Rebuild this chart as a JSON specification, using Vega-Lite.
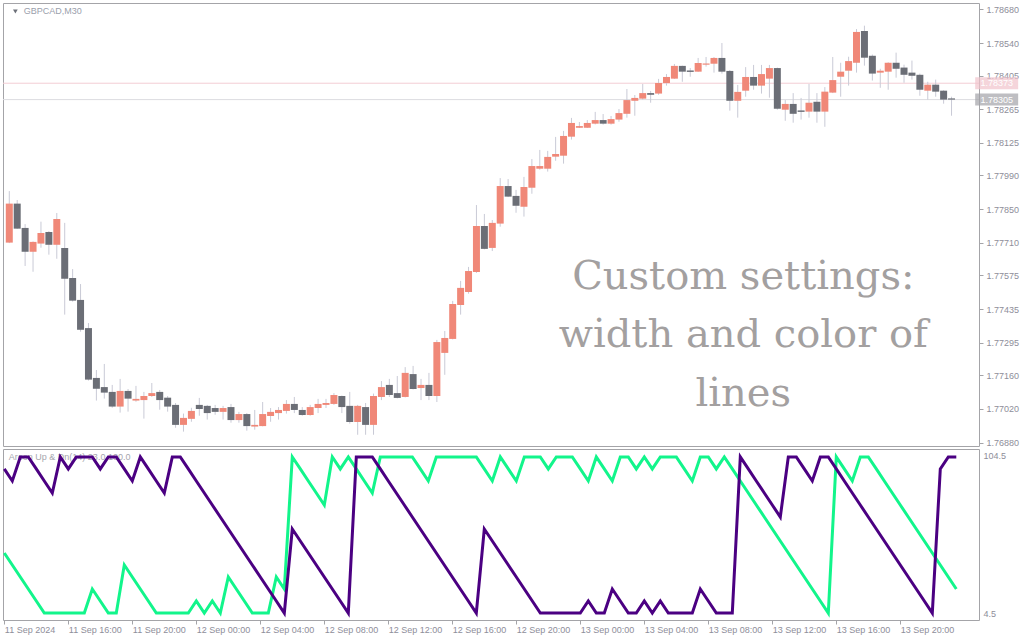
{
  "$schema": "https://vega.github.io/schema/vega-lite/v6.json",
  "padding": {"left": 2, "top": 2, "right": 0, "bottom": 0},
  "background": "white",
  "spacing": 3,
  "bounds": "flush",
  "config": {
    "view": {"stroke": "#a4a4a8", "strokeWidth": 1},
    "axis": {"labelFont": "Liberation Sans", "labelColor": "#8e8e9a", "tickColor": "#a4a4a8", "grid": false, "domain": false, "title": null, "labelOverlap": false, "labelFlush": false}
  },
  "datasets": {
    "bars": [
      {"t":"2024-09-11 12:00","o":1.77711,"h":1.77925,"l":1.77709,"c":1.77873,"up":43.1,"dn":96.3},
      {"t":"2024-09-11 12:30","o":1.77873,"h":1.77888,"l":1.77768,"c":1.77769,"up":35.5,"dn":88.7},
      {"t":"2024-09-11 13:00","o":1.77772,"h":1.77788,"l":1.77614,"c":1.77673,"up":27.9,"dn":103.9},
      {"t":"2024-09-11 13:30","o":1.77673,"h":1.77716,"l":1.77590,"c":1.77714,"up":20.3,"dn":103.9},
      {"t":"2024-09-11 14:00","o":1.77707,"h":1.77798,"l":1.77690,"c":1.77751,"up":12.7,"dn":96.3},
      {"t":"2024-09-11 14:30","o":1.77755,"h":1.77759,"l":1.77661,"c":1.77702,"up":5.1,"dn":88.7},
      {"t":"2024-09-11 15:00","o":1.77702,"h":1.77834,"l":1.77644,"c":1.77809,"up":5.1,"dn":81.1},
      {"t":"2024-09-11 15:30","o":1.77689,"h":1.77793,"l":1.77412,"c":1.77561,"up":5.1,"dn":103.9},
      {"t":"2024-09-11 16:00","o":1.77564,"h":1.77601,"l":1.77466,"c":1.77470,"up":5.1,"dn":96.3},
      {"t":"2024-09-11 16:30","o":1.77473,"h":1.77539,"l":1.77341,"c":1.77349,"up":5.1,"dn":103.9},
      {"t":"2024-09-11 17:00","o":1.77356,"h":1.77377,"l":1.77138,"c":1.77142,"up":5.1,"dn":103.9},
      {"t":"2024-09-11 17:30","o":1.77149,"h":1.77182,"l":1.77055,"c":1.77104,"up":20.3,"dn":103.9},
      {"t":"2024-09-11 18:00","o":1.77111,"h":1.77207,"l":1.77063,"c":1.77088,"up":12.7,"dn":96.3},
      {"t":"2024-09-11 18:30","o":1.77091,"h":1.77120,"l":1.77025,"c":1.77030,"up":5.1,"dn":103.9},
      {"t":"2024-09-11 19:00","o":1.77030,"h":1.77145,"l":1.77005,"c":1.77095,"up":5.1,"dn":103.9},
      {"t":"2024-09-11 19:30","o":1.77095,"h":1.77103,"l":1.77009,"c":1.77063,"up":35.5,"dn":96.3},
      {"t":"2024-09-11 20:00","o":1.77055,"h":1.77116,"l":1.77050,"c":1.77062,"up":27.9,"dn":88.7},
      {"t":"2024-09-11 20:30","o":1.77057,"h":1.77091,"l":1.76980,"c":1.77074,"up":20.3,"dn":103.9},
      {"t":"2024-09-11 21:00","o":1.77074,"h":1.77128,"l":1.77070,"c":1.77086,"up":12.7,"dn":96.3},
      {"t":"2024-09-11 21:30","o":1.77091,"h":1.77099,"l":1.77017,"c":1.77057,"up":5.1,"dn":88.7},
      {"t":"2024-09-11 22:00","o":1.77067,"h":1.77074,"l":1.77009,"c":1.77030,"up":5.1,"dn":81.1},
      {"t":"2024-09-11 22:30","o":1.77037,"h":1.77045,"l":1.76942,"c":1.76954,"up":5.1,"dn":103.9},
      {"t":"2024-09-11 23:00","o":1.76954,"h":1.77001,"l":1.76926,"c":1.76983,"up":5.1,"dn":103.9},
      {"t":"2024-09-11 23:30","o":1.76979,"h":1.77025,"l":1.76967,"c":1.77012,"up":5.1,"dn":96.3},
      {"t":"2024-09-12 00:00","o":1.77037,"h":1.77066,"l":1.76992,"c":1.77020,"up":12.7,"dn":88.7},
      {"t":"2024-09-12 00:30","o":1.77033,"h":1.77037,"l":1.76976,"c":1.77003,"up":5.1,"dn":81.1},
      {"t":"2024-09-12 01:00","o":1.77024,"h":1.77037,"l":1.76996,"c":1.77008,"up":12.7,"dn":73.5},
      {"t":"2024-09-12 01:30","o":1.77008,"h":1.77033,"l":1.76976,"c":1.77024,"up":5.1,"dn":65.9},
      {"t":"2024-09-12 02:00","o":1.77028,"h":1.77041,"l":1.76963,"c":1.76974,"up":27.9,"dn":58.3},
      {"t":"2024-09-12 02:30","o":1.76974,"h":1.77008,"l":1.76963,"c":1.76999,"up":20.3,"dn":50.7},
      {"t":"2024-09-12 03:00","o":1.76999,"h":1.77003,"l":1.76930,"c":1.76949,"up":12.7,"dn":43.1},
      {"t":"2024-09-12 03:30","o":1.76947,"h":1.77016,"l":1.76934,"c":1.76954,"up":5.1,"dn":35.5},
      {"t":"2024-09-12 04:00","o":1.76949,"h":1.77049,"l":1.76948,"c":1.76999,"up":5.1,"dn":27.9},
      {"t":"2024-09-12 04:30","o":1.76991,"h":1.77024,"l":1.76967,"c":1.77008,"up":5.1,"dn":20.3},
      {"t":"2024-09-12 05:00","o":1.77003,"h":1.77028,"l":1.76976,"c":1.77016,"up":27.9,"dn":12.7},
      {"t":"2024-09-12 05:30","o":1.77012,"h":1.77057,"l":1.77001,"c":1.77041,"up":20.3,"dn":5.1},
      {"t":"2024-09-12 06:00","o":1.77041,"h":1.77070,"l":1.77003,"c":1.77016,"up":103.9,"dn":58.3},
      {"t":"2024-09-12 06:30","o":1.77016,"h":1.77028,"l":1.76992,"c":1.76995,"up":96.3,"dn":50.7},
      {"t":"2024-09-12 07:00","o":1.76995,"h":1.77037,"l":1.76992,"c":1.77028,"up":88.7,"dn":43.1},
      {"t":"2024-09-12 07:30","o":1.77024,"h":1.77062,"l":1.77003,"c":1.77041,"up":81.1,"dn":35.5},
      {"t":"2024-09-12 08:00","o":1.77037,"h":1.77062,"l":1.77024,"c":1.77045,"up":73.5,"dn":27.9},
      {"t":"2024-09-12 08:30","o":1.77041,"h":1.77086,"l":1.77037,"c":1.77078,"up":103.9,"dn":20.3},
      {"t":"2024-09-12 09:00","o":1.77074,"h":1.77076,"l":1.77003,"c":1.77028,"up":96.3,"dn":12.7},
      {"t":"2024-09-12 09:30","o":1.77033,"h":1.77091,"l":1.76959,"c":1.76966,"up":103.9,"dn":5.1},
      {"t":"2024-09-12 10:00","o":1.76966,"h":1.77037,"l":1.76913,"c":1.77033,"up":96.3,"dn":103.9},
      {"t":"2024-09-12 10:30","o":1.77028,"h":1.77045,"l":1.76913,"c":1.76954,"up":88.7,"dn":103.9},
      {"t":"2024-09-12 11:00","o":1.76954,"h":1.77084,"l":1.76913,"c":1.77074,"up":81.1,"dn":103.9},
      {"t":"2024-09-12 11:30","o":1.77070,"h":1.77136,"l":1.77057,"c":1.77111,"up":103.9,"dn":96.3},
      {"t":"2024-09-12 12:00","o":1.77120,"h":1.77145,"l":1.77070,"c":1.77078,"up":103.9,"dn":88.7},
      {"t":"2024-09-12 12:30","o":1.77086,"h":1.77157,"l":1.77064,"c":1.77066,"up":103.9,"dn":81.1},
      {"t":"2024-09-12 13:00","o":1.77070,"h":1.77194,"l":1.77068,"c":1.77170,"up":103.9,"dn":73.5},
      {"t":"2024-09-12 13:30","o":1.77165,"h":1.77199,"l":1.77101,"c":1.77103,"up":103.9,"dn":65.9},
      {"t":"2024-09-12 14:00","o":1.77107,"h":1.77145,"l":1.77057,"c":1.77120,"up":96.3,"dn":58.3},
      {"t":"2024-09-12 14:30","o":1.77120,"h":1.77170,"l":1.77057,"c":1.77074,"up":88.7,"dn":50.7},
      {"t":"2024-09-12 15:00","o":1.77074,"h":1.77307,"l":1.77049,"c":1.77298,"up":103.9,"dn":43.1},
      {"t":"2024-09-12 15:30","o":1.77253,"h":1.77344,"l":1.77162,"c":1.77315,"up":103.9,"dn":35.5},
      {"t":"2024-09-12 16:00","o":1.77311,"h":1.77469,"l":1.77309,"c":1.77456,"up":103.9,"dn":27.9},
      {"t":"2024-09-12 16:30","o":1.77452,"h":1.77552,"l":1.77412,"c":1.77523,"up":103.9,"dn":20.3},
      {"t":"2024-09-12 17:00","o":1.77506,"h":1.77610,"l":1.77499,"c":1.77593,"up":103.9,"dn":12.7},
      {"t":"2024-09-12 17:30","o":1.77589,"h":1.77867,"l":1.77585,"c":1.77780,"up":103.9,"dn":5.1},
      {"t":"2024-09-12 18:00","o":1.77780,"h":1.77830,"l":1.77683,"c":1.77685,"up":96.3,"dn":58.3},
      {"t":"2024-09-12 18:30","o":1.77689,"h":1.77805,"l":1.77676,"c":1.77793,"up":88.7,"dn":50.7},
      {"t":"2024-09-12 19:00","o":1.77790,"h":1.77979,"l":1.77777,"c":1.77946,"up":103.9,"dn":43.1},
      {"t":"2024-09-12 19:30","o":1.77946,"h":1.77975,"l":1.77900,"c":1.77902,"up":96.3,"dn":35.5},
      {"t":"2024-09-12 20:00","o":1.77905,"h":1.77930,"l":1.77835,"c":1.77864,"up":88.7,"dn":27.9},
      {"t":"2024-09-12 20:30","o":1.77860,"h":1.77984,"l":1.77819,"c":1.77942,"up":103.9,"dn":20.3},
      {"t":"2024-09-12 21:00","o":1.77939,"h":1.78058,"l":1.77914,"c":1.78029,"up":103.9,"dn":12.7},
      {"t":"2024-09-12 21:30","o":1.78018,"h":1.78096,"l":1.78014,"c":1.78029,"up":103.9,"dn":5.1},
      {"t":"2024-09-12 22:00","o":1.78018,"h":1.78092,"l":1.78006,"c":1.78067,"up":96.3,"dn":5.1},
      {"t":"2024-09-12 22:30","o":1.78068,"h":1.78150,"l":1.78051,"c":1.78079,"up":103.9,"dn":5.1},
      {"t":"2024-09-12 23:00","o":1.78072,"h":1.78175,"l":1.78039,"c":1.78154,"up":103.9,"dn":5.1},
      {"t":"2024-09-12 23:30","o":1.78151,"h":1.78229,"l":1.78139,"c":1.78208,"up":103.9,"dn":5.1},
      {"t":"2024-09-13 00:00","o":1.78188,"h":1.78212,"l":1.78187,"c":1.78195,"up":96.3,"dn":5.1},
      {"t":"2024-09-13 00:30","o":1.78188,"h":1.78220,"l":1.78187,"c":1.78208,"up":88.7,"dn":12.7},
      {"t":"2024-09-13 01:00","o":1.78205,"h":1.78254,"l":1.78202,"c":1.78220,"up":103.9,"dn":5.1},
      {"t":"2024-09-13 01:30","o":1.78220,"h":1.78245,"l":1.78201,"c":1.78205,"up":96.3,"dn":5.1},
      {"t":"2024-09-13 02:00","o":1.78205,"h":1.78237,"l":1.78201,"c":1.78224,"up":88.7,"dn":20.3},
      {"t":"2024-09-13 02:30","o":1.78222,"h":1.78266,"l":1.78213,"c":1.78249,"up":103.9,"dn":12.7},
      {"t":"2024-09-13 03:00","o":1.78246,"h":1.78349,"l":1.78230,"c":1.78303,"up":103.9,"dn":5.1},
      {"t":"2024-09-13 03:30","o":1.78300,"h":1.78324,"l":1.78238,"c":1.78312,"up":96.3,"dn":5.1},
      {"t":"2024-09-13 04:00","o":1.78309,"h":1.78370,"l":1.78305,"c":1.78332,"up":103.9,"dn":12.7},
      {"t":"2024-09-13 04:30","o":1.78332,"h":1.78341,"l":1.78292,"c":1.78325,"up":96.3,"dn":5.1},
      {"t":"2024-09-13 05:00","o":1.78330,"h":1.78391,"l":1.78325,"c":1.78374,"up":103.9,"dn":12.7},
      {"t":"2024-09-13 05:30","o":1.78374,"h":1.78411,"l":1.78363,"c":1.78399,"up":103.9,"dn":5.1},
      {"t":"2024-09-13 06:00","o":1.78392,"h":1.78453,"l":1.78391,"c":1.78445,"up":103.9,"dn":5.1},
      {"t":"2024-09-13 06:30","o":1.78445,"h":1.78446,"l":1.78379,"c":1.78421,"up":96.3,"dn":5.1},
      {"t":"2024-09-13 07:00","o":1.78426,"h":1.78436,"l":1.78400,"c":1.78420,"up":88.7,"dn":5.1},
      {"t":"2024-09-13 07:30","o":1.78421,"h":1.78478,"l":1.78420,"c":1.78457,"up":103.9,"dn":20.3},
      {"t":"2024-09-13 08:00","o":1.78450,"h":1.78482,"l":1.78442,"c":1.78455,"up":103.9,"dn":12.7},
      {"t":"2024-09-13 08:30","o":1.78454,"h":1.78482,"l":1.78417,"c":1.78478,"up":96.3,"dn":5.1},
      {"t":"2024-09-13 09:00","o":1.78478,"h":1.78540,"l":1.78413,"c":1.78421,"up":103.9,"dn":5.1},
      {"t":"2024-09-13 09:30","o":1.78424,"h":1.78428,"l":1.78259,"c":1.78300,"up":96.3,"dn":5.1},
      {"t":"2024-09-13 10:00","o":1.78300,"h":1.78366,"l":1.78230,"c":1.78337,"up":88.7,"dn":103.9},
      {"t":"2024-09-13 10:30","o":1.78342,"h":1.78440,"l":1.78317,"c":1.78399,"up":81.1,"dn":96.3},
      {"t":"2024-09-13 11:00","o":1.78399,"h":1.78449,"l":1.78346,"c":1.78363,"up":73.5,"dn":88.7},
      {"t":"2024-09-13 11:30","o":1.78363,"h":1.78449,"l":1.78330,"c":1.78411,"up":65.9,"dn":81.1},
      {"t":"2024-09-13 12:00","o":1.78392,"h":1.78449,"l":1.78313,"c":1.78436,"up":58.3,"dn":73.5},
      {"t":"2024-09-13 12:30","o":1.78436,"h":1.78438,"l":1.78263,"c":1.78267,"up":50.7,"dn":65.9},
      {"t":"2024-09-13 13:00","o":1.78263,"h":1.78303,"l":1.78217,"c":1.78287,"up":43.1,"dn":103.9},
      {"t":"2024-09-13 13:30","o":1.78287,"h":1.78332,"l":1.78209,"c":1.78246,"up":35.5,"dn":103.9},
      {"t":"2024-09-13 14:00","o":1.78260,"h":1.78312,"l":1.78222,"c":1.78254,"up":27.9,"dn":96.3},
      {"t":"2024-09-13 14:30","o":1.78255,"h":1.78370,"l":1.78230,"c":1.78292,"up":20.3,"dn":88.7},
      {"t":"2024-09-13 15:00","o":1.78296,"h":1.78332,"l":1.78209,"c":1.78255,"up":12.7,"dn":103.9},
      {"t":"2024-09-13 15:30","o":1.78255,"h":1.78357,"l":1.78192,"c":1.78338,"up":5.1,"dn":103.9},
      {"t":"2024-09-13 16:00","o":1.78334,"h":1.78482,"l":1.78332,"c":1.78386,"up":103.9,"dn":96.3},
      {"t":"2024-09-13 16:30","o":1.78400,"h":1.78458,"l":1.78317,"c":1.78421,"up":96.3,"dn":88.7},
      {"t":"2024-09-13 17:00","o":1.78425,"h":1.78483,"l":1.78363,"c":1.78465,"up":88.7,"dn":81.1},
      {"t":"2024-09-13 17:30","o":1.78458,"h":1.78598,"l":1.78417,"c":1.78586,"up":103.9,"dn":73.5},
      {"t":"2024-09-13 18:00","o":1.78590,"h":1.78612,"l":1.78446,"c":1.78479,"up":103.9,"dn":65.9},
      {"t":"2024-09-13 18:30","o":1.78487,"h":1.78492,"l":1.78384,"c":1.78413,"up":96.3,"dn":58.3},
      {"t":"2024-09-13 19:00","o":1.78417,"h":1.78433,"l":1.78354,"c":1.78425,"up":88.7,"dn":50.7},
      {"t":"2024-09-13 19:30","o":1.78421,"h":1.78460,"l":1.78346,"c":1.78458,"up":81.1,"dn":43.1},
      {"t":"2024-09-13 20:00","o":1.78458,"h":1.78500,"l":1.78396,"c":1.78433,"up":73.5,"dn":35.5},
      {"t":"2024-09-13 20:30","o":1.78438,"h":1.78450,"l":1.78375,"c":1.78408,"up":65.9,"dn":27.9},
      {"t":"2024-09-13 21:00","o":1.78417,"h":1.78467,"l":1.78388,"c":1.78404,"up":58.3,"dn":20.3},
      {"t":"2024-09-13 21:30","o":1.78408,"h":1.78413,"l":1.78321,"c":1.78346,"up":50.7,"dn":12.7},
      {"t":"2024-09-13 22:00","o":1.78342,"h":1.78379,"l":1.78305,"c":1.78367,"up":43.1,"dn":5.1},
      {"t":"2024-09-13 22:30","o":1.78367,"h":1.78388,"l":1.78317,"c":1.78338,"up":35.5,"dn":96.3},
      {"t":"2024-09-13 23:00","o":1.78342,"h":1.78344,"l":1.78288,"c":1.78305,"up":27.9,"dn":103.9},
      {"t":"2024-09-13 23:30","o":1.78310,"h":1.78317,"l":1.78238,"c":1.78305,"up":20.3,"dn":103.9}
    ],
    "levels": [
      {"price": 1.78373, "label": "1.78373", "kind": "ask"},
      {"price": 1.78305, "label": "1.78305", "kind": "bid"}
    ]
  },
  "vconcat": [
    {
      "width": 976,
      "height": 443,
      "layer": [
        {
          "data": {"name": "levels"},
          "mark": {"type": "rule", "strokeWidth": 1},
          "encoding": {
            "y": {"field": "price", "type": "quantitative", "scale": {"domain": [1.768663, 1.787062], "nice": false, "zero": false},
              "axis": {"orient": "right", "values": [1.7868, 1.7854, 1.78405, 1.78265, 1.78125, 1.7799, 1.7785, 1.7771, 1.77575, 1.77435, 1.77295, 1.7716, 1.7702, 1.7688], "tickCount": 30, "format": ".5f", "tickSize": 4, "labelPadding": 3, "labelFontSize": 9, "labelOverlap": false}},
            "color": {"condition": {"test": "datum.kind === 'ask'", "value": "#f3cdd4"}, "value": "#dcdce0"}
          }
        },
        {
          "data": {"name": "bars"},
          "mark": {"type": "rule", "strokeWidth": 1, "color": "#c9cad6", "clip": true},
          "encoding": {
            "x": {"field": "t", "type": "temporal", "axis": null,
              "scale": {"domain": [{"year": 2024, "month": 9, "date": 11, "hours": 11, "minutes": 55, "seconds": 7, "milliseconds": 500}, {"year": 2024, "month": 9, "date": 14, "hours": 0, "minutes": 55, "seconds": 7, "milliseconds": 500}]}},
            "y": {"field": "l", "type": "quantitative", "axis": {"orient": "right", "values": [1.7868, 1.7854, 1.78405, 1.78265, 1.78125, 1.7799, 1.7785, 1.7771, 1.77575, 1.77435, 1.77295, 1.7716, 1.7702, 1.7688], "tickCount": 30, "format": ".5f", "tickSize": 4, "labelPadding": 3, "labelFontSize": 9, "labelOverlap": false}},
            "y2": {"field": "h"}
          }
        },
        {
          "data": {"name": "bars"},
          "mark": {"type": "bar", "size": 7, "clip": true},
          "encoding": {
            "x": {"field": "t", "type": "temporal"},
            "y": {"field": "o", "type": "quantitative"},
            "y2": {"field": "c"},
            "color": {"condition": {"test": "datum.c >= datum.o", "value": "#f08878"}, "value": "#6b6e76"}
          }
        },
        {
          "data": {"name": "levels"},
          "mark": {"type": "tick", "orient": "horizontal", "size": 43, "thickness": 12},
          "encoding": {
            "x": {"datum": {"year": 2024, "month": 9, "date": 14, "hours": 2, "minutes": 21}, "type": "temporal"},
            "y": {"field": "price", "type": "quantitative"},
            "color": {"condition": {"test": "datum.kind === 'ask'", "value": "#f1c3cc"}, "value": "#a3a3a8"}
          }
        },
        {
          "data": {"name": "levels"},
          "mark": {"type": "text", "font": "Liberation Sans", "fontSize": 9, "color": "white", "align": "center", "baseline": "middle"},
          "encoding": {
            "x": {"datum": {"year": 2024, "month": 9, "date": 14, "hours": 2, "minutes": 21}, "type": "temporal"},
            "y": {"field": "price", "type": "quantitative"},
            "text": {"field": "label"}
          }
        },
        {
          "data": {"values": [{"sym": "GBPCAD,M30"}]},
          "mark": {"type": "point", "shape": "triangle-down", "size": 22, "filled": true, "color": "#6c7079", "opacity": 1},
          "encoding": {
            "x": {"datum": {"year": 2024, "month": 9, "date": 11, "hours": 12, "minutes": 23}, "type": "temporal"},
            "y": {"datum": 1.78671, "type": "quantitative"}
          }
        },
        {
          "data": {"values": [{"sym": "GBPCAD,M30"}]},
          "mark": {"type": "text", "font": "Liberation Sans", "fontSize": 9, "color": "#9aa0ac", "align": "left", "baseline": "middle"},
          "encoding": {
            "x": {"datum": {"year": 2024, "month": 9, "date": 11, "hours": 12, "minutes": 55}, "type": "temporal"},
            "y": {"datum": 1.78671, "type": "quantitative"},
            "text": {"field": "sym"}
          }
        },
        {
          "data": {"values": [{"note": "Custom settings:\nwidth and color of\nlines"}]},
          "mark": {"type": "text", "font": "DejaVu Serif", "fontSize": 40, "color": "#a3a0a0", "align": "center", "baseline": "alphabetic", "lineBreak": "\n", "lineHeight": 58.5},
          "encoding": {
            "x": {"datum": {"year": 2024, "month": 9, "date": 13, "hours": 10, "minutes": 21}, "type": "temporal"},
            "y": {"datum": 1.775184, "type": "quantitative"},
            "text": {"field": "note"}
          }
        }
      ]
    },
    {
      "width": 976,
      "height": 171,
      "layer": [
        {
          "data": {"values": [{"name": "Aroon Up & Dn(14) 23.0 100.0"}]},
          "mark": {"type": "text", "font": "Liberation Sans", "fontSize": 9, "color": "#a6a6ae", "align": "left", "baseline": "middle"},
          "encoding": {
            "x": {"datum": {"year": 2024, "month": 9, "date": 11, "hours": 12, "minutes": 17}, "type": "temporal",
              "scale": {"domain": [{"year": 2024, "month": 9, "date": 11, "hours": 11, "minutes": 55, "seconds": 7, "milliseconds": 500}, {"year": 2024, "month": 9, "date": 14, "hours": 0, "minutes": 55, "seconds": 7, "milliseconds": 500}]},
              "axis": {"orient": "bottom", "values": [
                {"year": 2024, "month": 9, "date": 11, "hours": 12}, {"year": 2024, "month": 9, "date": 11, "hours": 16}, {"year": 2024, "month": 9, "date": 11, "hours": 20},
                {"year": 2024, "month": 9, "date": 12, "hours": 0}, {"year": 2024, "month": 9, "date": 12, "hours": 4}, {"year": 2024, "month": 9, "date": 12, "hours": 8},
                {"year": 2024, "month": 9, "date": 12, "hours": 12}, {"year": 2024, "month": 9, "date": 12, "hours": 16}, {"year": 2024, "month": 9, "date": 12, "hours": 20},
                {"year": 2024, "month": 9, "date": 13, "hours": 0}, {"year": 2024, "month": 9, "date": 13, "hours": 4}, {"year": 2024, "month": 9, "date": 13, "hours": 8},
                {"year": 2024, "month": 9, "date": 13, "hours": 12}, {"year": 2024, "month": 9, "date": 13, "hours": 16}, {"year": 2024, "month": 9, "date": 13, "hours": 20}],
                "tickCount": 40,
                "labelExpr": "date(datum.value) == 11 && hours(datum.value) == 12 ? '11 Sep 2024' : timeFormat(datum.value, '%d %b %H:%M')",
                "labelAlign": "left", "labelBaseline": "top", "tickSize": 4, "labelPadding": 1, "labelFontSize": 9, "labelOverlap": false, "labelFlush": false, "labelBound": false}},
            "y": {"datum": 103.9, "type": "quantitative", "scale": {"domain": [0.70, 108.93], "nice": false, "zero": false},
              "axis": {"orient": "right", "values": [4.5, 104.5], "format": ".1f", "tickSize": 0, "labelPadding": 4, "labelFontSize": 9, "labelOverlap": false}},
            "text": {"field": "name"}
          }
        },
        {
          "data": {"name": "bars"},
          "mark": {"type": "line", "strokeWidth": 3, "color": "#12f58b", "clip": true},
          "encoding": {
            "x": {"field": "t", "type": "temporal"},
            "y": {"field": "up", "type": "quantitative"}
          }
        },
        {
          "data": {"name": "bars"},
          "mark": {"type": "line", "strokeWidth": 3, "color": "#4b0082", "clip": true},
          "encoding": {
            "x": {"field": "t", "type": "temporal"},
            "y": {"field": "dn", "type": "quantitative"}
          }
        }
      ]
    }
  ]
}
